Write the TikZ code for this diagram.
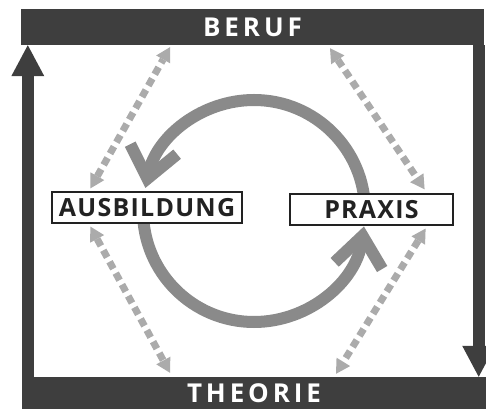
\documentclass[tikz,border=0pt]{standalone}
\usepackage{fontspec}
\setmainfont{Open Sans}
\newfontfamily\barfont[LetterSpace=15]{Open Sans}
\newfontfamily\boxfont[LetterSpace=5]{Open Sans}
\usetikzlibrary{arrows.meta}
\definecolor{bargray}{HTML}{3E3E3E}
\definecolor{ringgray}{HTML}{8A8A8A}
\definecolor{dashgray}{HTML}{ABABAB}
\definecolor{textgray}{HTML}{222222}

\begin{document}
\begin{tikzpicture}[x=1pt,y=1pt,
  bar/.style={fill=bargray,text=white,inner sep=0pt,font=\barfont\bfseries\fontsize{26}{26}\selectfont},
  wordbox/.style={draw=textgray,line width=1.2pt,fill=white,inner sep=0pt,minimum height=31pt,text=textgray,font=\boxfont\bfseries\fontsize{25}{25}\selectfont},
  frame arrow/.style={draw=bargray,line width=12pt,-{Triangle[length=31pt,width=33pt,line width=0pt]}},
  cycle arrow/.style={draw=ringgray,line width=12pt,-{Straight Barb[length=30pt,width=48pt]}},
  link/.style={draw=dashgray,line width=7pt,dash pattern=on 8pt off 5pt,{Triangle[length=14pt,width=16pt,line width=0pt]}-{Triangle[length=14pt,width=16pt,line width=0pt]}}]
\useasboundingbox (0,0) rectangle (486,409);
% bars top and bottom
\node[bar,minimum width=463pt,minimum height=36pt] (beruf) at (252.5,382) {BERUF};
\node[bar,minimum width=464pt,minimum height=32pt] (theorie) at (254,16) {THEORIE};
\draw[frame arrow] ([xshift=6pt]theorie.north west) -- ([xshift=7pt]beruf.south west);
\draw[frame arrow] ([xshift=-5.5pt]beruf.south east) -- ([xshift=-7.5pt]theorie.north east);
% circle
\coordinate (ring) at (254,198);
\draw[cycle arrow] ([shift={(0:111)}]ring) arc[start angle=0,end angle=168,radius=111];
\draw[cycle arrow] ([shift={(180:111)}]ring) arc[start angle=180,end angle=352,radius=111];
% boxes
\node[wordbox,minimum width=190pt] (ausbildung) at (147,201.5) {AUSBILDUNG};
\node[wordbox,minimum width=163pt] (praxis) at (371.5,199.5) {PRAXIS};
% dashed links
\draw[link] ([shift={(39,3)}]ausbildung.north west) -- ([shift={(-82.5,-2)}]beruf.south);
\draw[link] ([shift={(77.5,-3)}]beruf.south) -- ([shift={(-29,4)}]praxis.north east);
\draw[link] ([shift={(39,-3)}]ausbildung.south west) -- ([shift={(-84,4)}]theorie.north);
\draw[link] ([shift={(-28,-3)}]praxis.south east) -- ([shift={(82,3)}]theorie.north);
\end{tikzpicture}
\end{document}
